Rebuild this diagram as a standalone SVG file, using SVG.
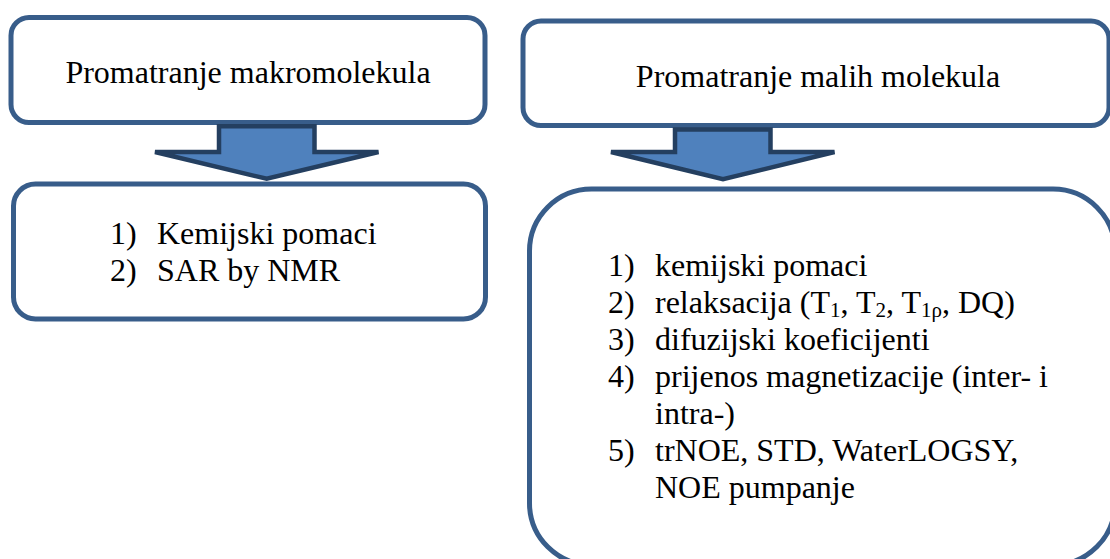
<svg xmlns="http://www.w3.org/2000/svg" width="1110" height="559" viewBox="0 0 1110 559">
<style>
.box{fill:#ffffff;stroke:#385D8A;stroke-width:5}
.arrow{fill:#4F81BD;stroke:#243F60;stroke-width:4.5;stroke-linejoin:miter;stroke-miterlimit:2}
text{font-family:"Liberation Serif","Times New Roman",serif;font-size:32px;fill:#000000}
.title{text-anchor:middle}
.sub{font-size:21px}
</style>
<rect width="1110" height="559" fill="#ffffff"/>
<g id="node-makro">
<rect class="box" x="11" y="17.5" width="474" height="105" rx="18" ry="18"/>
<text class="title" x="248" y="83">Promatranje makromolekula</text>
</g>
<g id="node-mali">
<rect class="box" x="523" y="21" width="586" height="104.5" rx="18" ry="18"/>
<text class="title" x="818" y="87">Promatranje malih molekula</text>
</g>
<g id="node-makro-list">
<rect class="box" x="13.5" y="184" width="472" height="135" rx="22" ry="22"/>
<text x="110" y="244">1)</text>
<text x="157" y="244">Kemijski pomaci</text>
<text x="110" y="281">2)</text>
<text x="157" y="281">SAR by NMR</text>
</g>
<g id="node-mali-list">
<rect class="box" x="529.5" y="189" width="585.5" height="376" rx="62" ry="62"/>
<text x="608" y="276">1)</text>
<text x="655" y="276">kemijski pomaci</text>
<text x="608" y="313">2)</text>
<text x="655" y="313">relaksacija (T<tspan class="sub" dy="4">1</tspan><tspan dy="-4">, T</tspan><tspan class="sub" dy="4">2</tspan><tspan dy="-4">, T</tspan><tspan class="sub" dy="4">1ρ</tspan><tspan dy="-4">, DQ)</tspan></text>
<text x="608" y="350">3)</text>
<text x="655" y="350">difuzijski koeficijenti</text>
<text x="608" y="387">4)</text>
<text x="655" y="387">prijenos magnetizacije (inter- i</text>
<text x="655" y="424">intra-)</text>
<text x="608" y="461">5)</text>
<text x="655" y="461">trNOE, STD, WaterLOGSY,</text>
<text x="655" y="498">NOE pumpanje</text>
</g>
<g id="connectors">
<polygon class="arrow" points="219,126.3 314.5,126.3 314.5,152 378.5,152 266.7,178.8 155,152 219,152"/>
<polygon class="arrow" points="675,129.5 770.5,129.5 770.5,152 834.5,152 723,179.3 611,152 675,152"/>
</g>
</svg>
